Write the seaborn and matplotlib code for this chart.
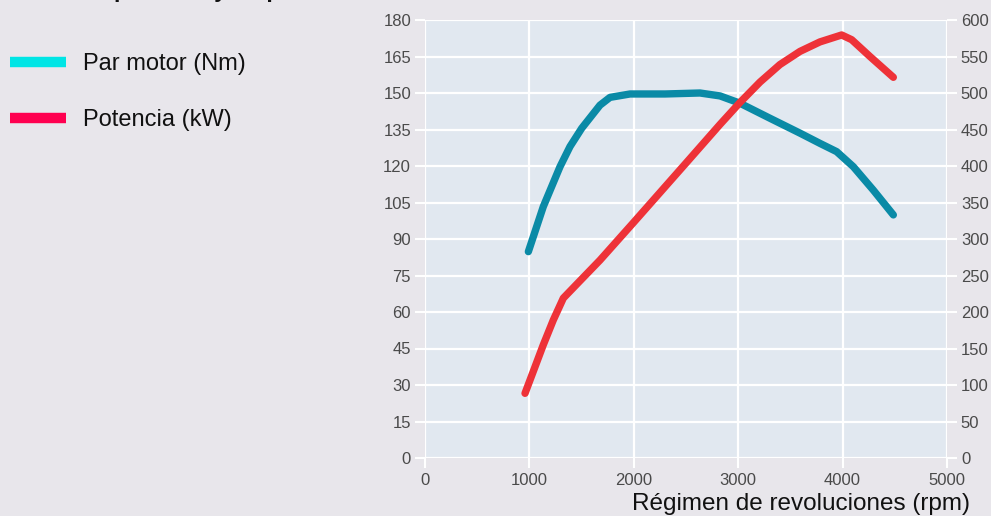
import pandas as pd
import seaborn as sns
import matplotlib.pyplot as plt
from matplotlib.lines import Line2D

# data
torque_rpm = [990, 1133, 1293, 1389, 1501, 1676, 1772, 1964, 2300, 2634, 2826, 3017,
              3305, 3592, 3783, 3943, 4103, 4294, 4486]
torque_nm = [84.8, 103.3, 119.7, 128, 135.5, 145, 148.2, 149.6, 149.6, 150, 148.8, 145.8,
             139.6, 133.5, 129.3, 125.9, 119.7, 110.1, 99.9]

power_rpm = [958, 1054, 1133, 1229, 1325, 1453, 1676, 2000, 2500, 2826, 3017, 3209,
             3400, 3592, 3783, 3991, 4087, 4262, 4486]
power_kw = [88.6, 125, 155, 189, 219, 238, 271, 323, 404, 457, 487, 515,
            539, 557, 570, 579.5, 573, 550, 521.5]

x_ticks = [0, 1000, 2000, 3000, 4000, 5000]
left_ticks = list(range(0, 181, 15))
right_ticks = list(range(0, 601, 50))

df_t = pd.DataFrame({"rpm": torque_rpm, "val": torque_nm})
df_p = pd.DataFrame({"rpm": power_rpm, "val": power_kw})

sns.set_theme(style="darkgrid")
plt.rcParams["font.family"] = ["Liberation Sans", "DejaVu Sans"]

fig = plt.figure(figsize=(9.91, 5.16), dpi=100, facecolor="#e8e6eb")
ax = fig.add_axes([425 / 991, 1 - 458 / 516, 522 / 991, 438 / 516])
ax.set_facecolor("#e1e8f0")
ax2 = ax.twinx()

sns.lineplot(data=df_t, x="rpm", y="val", ax=ax, color="#0a8aa6", lw=5.3,
             solid_capstyle="round", solid_joinstyle="round")
sns.lineplot(data=df_p, x="rpm", y="val", ax=ax2, color="#ee3238", lw=5.3,
             solid_capstyle="round", solid_joinstyle="round")

ax.set_xlim(0, 5000)
ax.set_ylim(0, 180)
ax2.set_ylim(0, 600)
ax.set_xticks(x_ticks)
ax.set_yticks(left_ticks)
ax2.set_yticks(right_ticks)
ax2.grid(False)
ax.grid(True, color="white", lw=1.6)
ax.set_xlabel("")
ax.set_ylabel("")
ax2.set_ylabel("")

for a in (ax, ax2):
    for s in a.spines.values():
        s.set_visible(False)
    a.tick_params(axis="both", colors="white", length=7, width=1.5,
                  labelcolor="#4a4a4a", labelsize=12)
ax.tick_params(axis="y", pad=3, left=True)
ax.tick_params(axis="x", pad=4, bottom=True)
ax2.tick_params(axis="y", right=True, pad=3)

fig.text(970 / 991, 1 - 504 / 516, "Régimen de revoluciones (rpm)", ha="right",
         va="center", fontsize=17.5, color="#111111")

# title, cut off at the top edge as in the reference
fig.text(10 / 991, 1 + 3 / 516, "Curva de potencia y de par", ha="left",
         va="baseline", fontsize=16.5, fontweight="bold", color="#111111")

handles = [Line2D([], [], color="#00e5e5", lw=7.5, solid_capstyle="butt"),
           Line2D([], [], color="#ff0050", lw=7.5, solid_capstyle="butt")]
fig.legend(handles, ["Par motor (Nm)", "Potencia (kW)"], loc="upper left",
           bbox_to_anchor=(10 / 991, 1 - 53 / 516), frameon=False, fontsize=17,
           handlelength=2.37, handletextpad=0.72, labelspacing=1.45,
           borderaxespad=0, borderpad=0, labelcolor="#111111")

fig.savefig("out.png", dpi=100, facecolor=fig.get_facecolor())
